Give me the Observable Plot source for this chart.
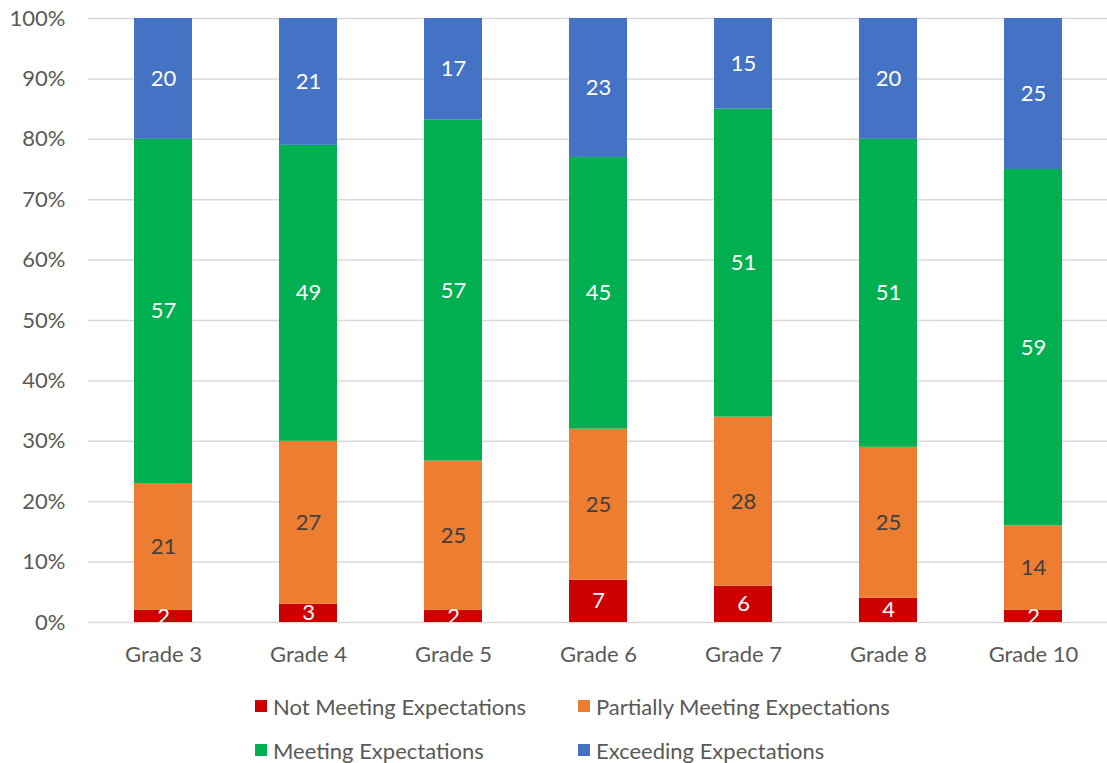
<!DOCTYPE html>
<html>
<head>
<meta charset="utf-8">
<script src="https://cdn.jsdelivr.net/npm/d3@7"></script>
<script src="https://cdn.jsdelivr.net/npm/@observablehq/plot@0.6"></script>
<style>
  html, body { margin: 0; padding: 0; background: #fff; }
  body { width: 1107px; height: 763px; position: relative; overflow: hidden; font-family: Lato, "Open Sans", sans-serif; }
  #legend .item { position: absolute; display: flex; align-items: center; font-size: 22px; color: #595959; white-space: nowrap; }
  #legend .swatch { width: 12px; height: 12px; margin-right: 6px; }
</style>
</head>
<body>
<div id="chart"></div>
<div id="legend"></div>
<script>
// Achievement levels by grade (percent of students)
const grades = ["Grade 3", "Grade 4", "Grade 5", "Grade 6", "Grade 7", "Grade 8", "Grade 10"];
const levels = ["Not Meeting Expectations", "Partially Meeting Expectations", "Meeting Expectations", "Exceeding Expectations"];
const levelColors = ["#CC0000", "#ED7D31", "#00B050", "#4472C4"];
const labelColors = ["#ffffff", "#404040", "#ffffff", "#ffffff"];

const notMeeting = [2, 3, 2, 7, 6, 4, 2];
const partiallyMeeting = [21, 27, 25, 25, 28, 25, 14];
const meeting = [57, 49, 57, 45, 51, 51, 59];
const exceeding = [20, 21, 17, 23, 15, 20, 25];

const yTicks = [0, 0.1, 0.2, 0.3, 0.4, 0.5, 0.6, 0.7, 0.8, 0.9, 1];

const series = [notMeeting, partiallyMeeting, meeting, exceeding];
const rows = [];
series.forEach((vals, li) => {
  vals.forEach((v, gi) => rows.push({grade: grades[gi], level: levels[li], li, value: v}));
});

const stackOpts = {x: "grade", y: "value", z: "level", offset: "normalize"};

const chart = Plot.plot({
  width: 1107,
  height: 680,
  marginTop: 18,
  marginBottom: 58,
  marginLeft: 88,
  marginRight: 0,
  style: {fontFamily: "Lato, 'Open Sans', sans-serif", fontSize: "22px", color: "#595959", background: "#fff"},
  x: {domain: grades, paddingInner: 0.6, paddingOuter: 0.3, label: null, tickSize: 0, tickPadding: 24},
  y: {domain: [0, 1], ticks: yTicks, tickFormat: d3.format(".0%"), label: null, tickSize: 0, tickPadding: 23, grid: false},
  color: {type: "identity"},
  marks: [
    Plot.ruleY(yTicks, {stroke: "#D9D9D9", strokeWidth: 1.5}),
    Plot.barY(rows, Plot.stackY({...stackOpts, fill: d => levelColors[d.li]})),
    Plot.text(rows, Plot.stackY({
      ...stackOpts,
      text: "value",
      fill: d => labelColors[d.li],
      fontSize: 22,
      clip: true
    }))
  ]
});
document.getElementById("chart").appendChild(chart);

// Legend below the plot: two rows of two entries
const legend = document.getElementById("legend");
const legendPos = [[255, 706], [578, 706], [255, 750], [578, 750]];
levels.forEach((name, i) => {
  const item = document.createElement("div");
  item.className = "item";
  item.style.left = legendPos[i][0] + "px";
  item.style.top = (legendPos[i][1] - 14) + "px";
  item.style.height = "28px";
  const sw = document.createElement("span");
  sw.className = "swatch";
  sw.style.background = levelColors[i];
  const label = document.createElement("span");
  label.textContent = name;
  item.appendChild(sw);
  item.appendChild(label);
  legend.appendChild(item);
});
</script>
</body>
</html>
